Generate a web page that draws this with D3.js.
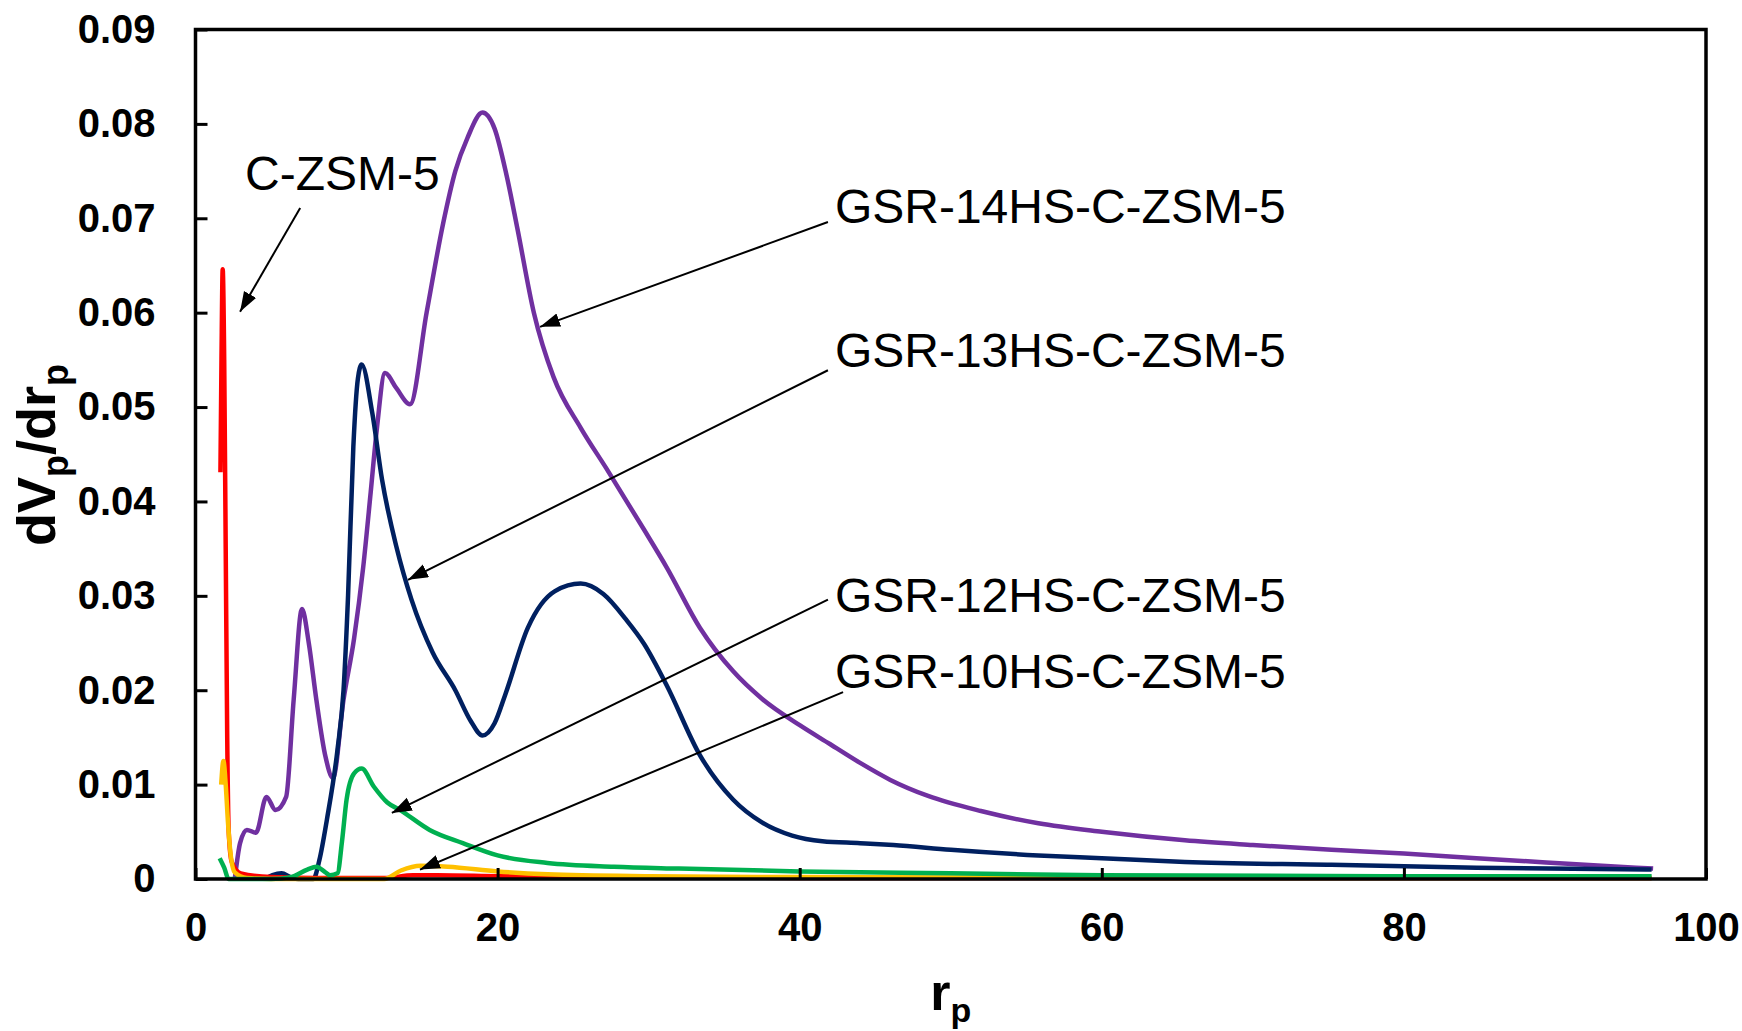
<!DOCTYPE html>
<html>
<head>
<meta charset="utf-8">
<script src="https://cdn.jsdelivr.net/npm/d3@7"></script>
<style>
  body { margin: 0; background: #fff; }
  svg { display: block; font-family: Arial, "Liberation Sans", sans-serif; }
</style>
</head>
<body>
<svg id="chart" width="1742" height="1031"></svg>
<script>
// pore size distribution curves, [r_p, dV_p/dr_p]
const gsr14 = [[2.6,0],[2.95,0.0038],[3.4,0.0052],[4.0,0.0049],[4.7,0.0087],[5.3,0.0073],[6.0,0.0087],[6.5,0.019],[7.05,0.0286],[7.5,0.025],[8.0,0.019],[8.6,0.013],[9.1,0.0107],[9.8,0.019],[10.5,0.0255],[11.1,0.033],[11.6,0.041],[12.0,0.0476],[12.55,0.0536],[13.3,0.0520],[14.2,0.0503],[15.3,0.060],[16.4,0.0695],[17.2,0.075],[18.0,0.0785],[19.0,0.0812],[19.8,0.0795],[20.6,0.0745],[21.3,0.069],[22.4,0.060],[23.7,0.0532],[25.5,0.0478],[27.2,0.0435],[29.7,0.0370],[31.2,0.0330],[33.4,0.0266],[35.6,0.0220],[37.5,0.0191],[40,0.0163],[42,0.0143],[44,0.0123],[46,0.0105],[48.5,0.0088],[52,0.0072],[55.8,0.0059],[60,0.0050],[65.5,0.0041],[70,0.0036],[75.2,0.0031],[80,0.0027],[84.8,0.0022],[90,0.0017],[96.5,0.0011]];

const gsr13 = [[4.6,0],[5.1,0.0004],[5.7,0.0006],[6.3,0.0002],[6.8,0],[7.8,0],[8.2,0.002],[8.7,0.0063],[9.4,0.0137],[9.8,0.020],[10.1,0.030],[10.45,0.0458],[10.75,0.053],[11.0,0.0545],[11.7,0.0494],[12.35,0.0423],[13.3,0.0352],[14.3,0.0296],[15.7,0.0240],[17.2,0.0200],[18.2,0.0168],[19.0,0.0152],[19.8,0.0165],[20.5,0.0195],[22.0,0.0266],[23.8,0.0305],[25.5,0.0313],[27.0,0.0302],[28.5,0.0275],[29.7,0.0249],[31.2,0.0205],[33.4,0.0131],[35.6,0.0084],[37.5,0.0060],[39.5,0.0046],[41.5,0.0040],[44,0.0038],[46.2,0.0036],[50,0.0031],[55.8,0.0025],[60,0.0022],[65.5,0.0018],[75.2,0.0015],[84.8,0.0012],[96.4,0.0010]];

const gsr12 = [[1.6,0.0022],[1.9,0.0012],[2.2,0],[5,0],[6.3,0.0002],[7.4,0.0010],[8.0,0.0013],[8.6,0.0007],[8.9,0.0004],[9.4,0.0006],[9.7,0.004],[10.0,0.0084],[10.5,0.0112],[11.0,0.0117],[11.8,0.0098],[12.7,0.0081],[13.55,0.0073],[15.5,0.0052],[17.7,0.0038],[20,0.0025],[23.3,0.0017],[27.7,0.0013],[32,0.0011],[40,0.0008],[50,0.0006],[60,0.0004],[80,0.0003],[96.4,0.0003]];

const gsr10 = [[1.7,0.0100],[1.85,0.0125],[2.0,0.0100],[2.15,0.0060],[2.3,0.0030],[2.6,0.0007],[3.4,0.0001],[5,0],[12.5,0],[13.6,0.0009],[14.9,0.0014],[16.7,0.0013],[20,0.0008],[23.3,0.0005],[30,0.0003],[40,0.0002],[60,0.0001],[96.4,0.0001]];

const czsm5 = [[1.65,0.0431],[1.72,0.055],[1.8,0.0646],[1.9,0.055],[2.0,0.035],[2.1,0.015],[2.2,0.005],[2.4,0.0018],[3.0,0.0006],[5,0.0002],[8,0.0001],[12.5,0.0001],[14.4,0.0004],[16,0.0004],[20,0.0003],[30,0.0002],[40,0.0001],[96.4,0.0001]];

const seriesNames  = ["GSR-14HS-C-ZSM-5", "GSR-13HS-C-ZSM-5", "C-ZSM-5", "GSR-10HS-C-ZSM-5", "GSR-12HS-C-ZSM-5"];
const seriesData   = [gsr14, gsr13, czsm5, gsr10, gsr12];
const seriesColors = ["#7030A0", "#002060", "#FF0000", "#FFC000", "#00B050"];

const xTicks = [0, 20, 40, 60, 80, 100];
const yTicks = [0, 0.01, 0.02, 0.03, 0.04, 0.05, 0.06, 0.07, 0.08, 0.09];

// callout labels: text start + arrow (from -> to), in data units
const callouts = [
  {text: "C-ZSM-5",          tx: 3.28,  ty: 0.0730, from: [6.93, 0.0711],  to: [2.95, 0.0601]},
  {text: "GSR-14HS-C-ZSM-5", tx: 42.33, ty: 0.0695, from: [41.87, 0.0696], to: [22.81, 0.0585]},
  {text: "GSR-13HS-C-ZSM-5", tx: 42.33, ty: 0.0542, from: [41.87, 0.0539], to: [14.07, 0.0317]},
  {text: "GSR-12HS-C-ZSM-5", tx: 42.33, ty: 0.0283, from: [41.87, 0.0296], to: [13.0, 0.0070]},
  {text: "GSR-10HS-C-ZSM-5", tx: 42.33, ty: 0.0202, from: [42.87, 0.0198], to: [14.86, 0.0010]}
];

const svg = d3.select("#chart");
const plot = {left: 195.5, right: 1706, top: 29.5, bottom: 879};

const x = d3.scaleLinear().domain([0, 100]).range([plot.left, plot.right]);
const y = d3.scaleLinear().domain([0, 0.09]).range([plot.bottom, plot.top]);

// arrow head
svg.append("defs").append("marker")
    .attr("id", "arrow")
    .attr("markerUnits", "userSpaceOnUse")
    .attr("markerWidth", 22).attr("markerHeight", 16)
    .attr("refX", 20).attr("refY", 7)
    .attr("orient", "auto")
  .append("path")
    .attr("d", "M0,0 L20,7 L0,14 Z")
    .attr("fill", "#000");

// curves
const line = d3.line()
    .x(d => x(d[0]))
    .y(d => y(d[1]))
    .curve(d3.curveMonotoneX);

svg.append("g").selectAll("path")
    .data(seriesData)
    .join("path")
    .attr("d", line)
    .attr("fill", "none")
    .attr("stroke", (d, i) => seriesColors[i])
    .attr("stroke-width", 4.5)
    .attr("stroke-linejoin", "round");

// axes with inward ticks
const xAxis = svg.append("g")
    .attr("transform", `translate(0,${plot.bottom})`)
    .call(d3.axisBottom(x).tickValues(xTicks).tickSize(-11).tickPadding(34).tickFormat(d3.format("d")));
const yAxis = svg.append("g")
    .attr("transform", `translate(${plot.left},0)`)
    .call(d3.axisLeft(y).tickValues(yTicks).tickSize(-12).tickPadding(40)
      .tickFormat(d => d === 0 ? "0" : d3.format(".2f")(d)));

[xAxis, yAxis].forEach(a => {
  a.select(".domain").remove();
  a.selectAll(".tick line").attr("stroke", "#000").attr("stroke-width", 3);
  a.selectAll(".tick text")
    .attr("fill", "#000")
    .style("font-size", "40px")
    .style("font-weight", "bold")
    .style("font-family", "Arial, 'Liberation Sans', sans-serif");
});
xAxis.selectAll(".tick text").attr("dy", "0.71em");

// plot frame
svg.append("rect")
    .attr("x", plot.left).attr("y", plot.top)
    .attr("width", plot.right - plot.left).attr("height", plot.bottom - plot.top)
    .attr("fill", "none")
    .attr("stroke", "#000")
    .attr("stroke-width", 3.5);

// callouts
const cg = svg.append("g");
cg.selectAll("line")
    .data(callouts)
    .join("line")
    .attr("x1", d => x(d.from[0])).attr("y1", d => y(d.from[1]))
    .attr("x2", d => x(d.to[0])).attr("y2", d => y(d.to[1]))
    .attr("stroke", "#000")
    .attr("stroke-width", 2)
    .attr("marker-end", "url(#arrow)");
cg.selectAll("text")
    .data(callouts)
    .join("text")
    .attr("x", d => x(d.tx)).attr("y", d => y(d.ty))
    .style("font-size", "48px")
    .attr("fill", "#000")
    .text(d => d.text);

// axis titles
const xTitle = svg.append("text")
    .attr("x", (plot.left + plot.right) / 2).attr("y", 1010)
    .attr("text-anchor", "middle")
    .style("font-size", "52px").style("font-weight", "bold");
xTitle.append("tspan").text("r");
xTitle.append("tspan").attr("dy", 12).style("font-size", "34px").text("p");

const yTitle = svg.append("text")
    .attr("transform", "rotate(-90)")
    .attr("x", -455).attr("y", 55)
    .attr("text-anchor", "middle")
    .style("font-size", "54px").style("font-weight", "bold");
yTitle.append("tspan").text("dV");
yTitle.append("tspan").attr("dy", 13).style("font-size", "36px").text("p");
yTitle.append("tspan").attr("dy", -13).text("/dr");
yTitle.append("tspan").attr("dy", 13).style("font-size", "36px").text("p");
</script>
</body>
</html>
